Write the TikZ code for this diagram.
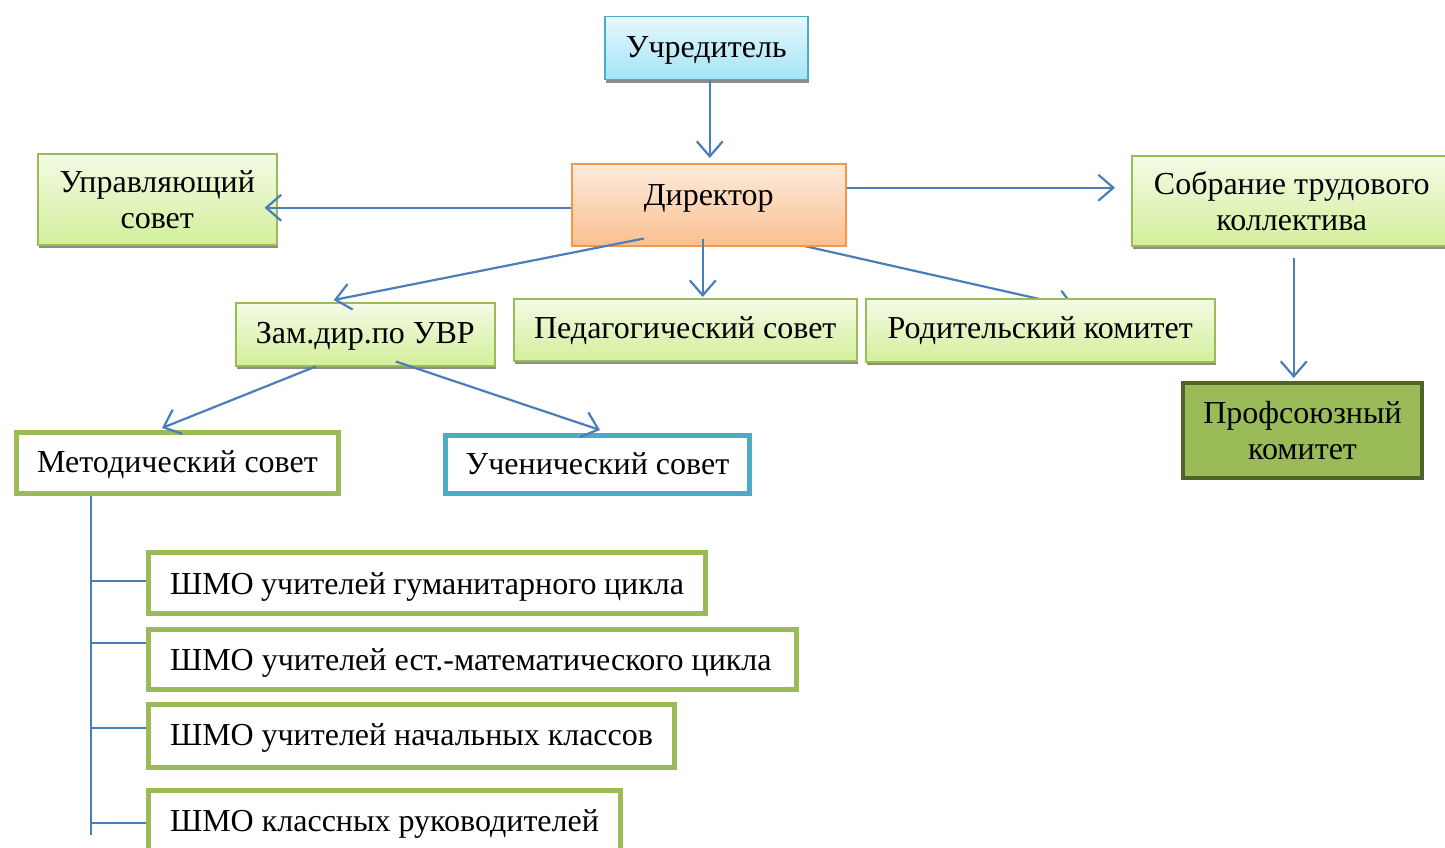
\documentclass[tikz,border=0pt]{standalone}
\usepackage{fontspec}
\setmainfont{Liberation Serif}
\usetikzlibrary{arrows.meta,shadows}
\pgfdeclarelayer{background}
\pgfsetlayers{background,main}
\definecolor{lineblue}{HTML}{4A7EBB}
\definecolor{grnB}{HTML}{9BBB59}
\definecolor{grnT}{HTML}{F4FBE6}
\definecolor{grnBt}{HTML}{D3EF9B}
\definecolor{orB}{HTML}{F79646}
\definecolor{orT}{HTML}{FDEBDD}
\definecolor{orBt}{HTML}{FAC08F}
\definecolor{cyB}{HTML}{4BACC6}
\definecolor{cyT}{HTML}{E6F8FD}
\definecolor{cyBt}{HTML}{A3E4F7}
\definecolor{darkgrn}{HTML}{4F6228}
\newcommand{\bigfont}{\fontsize{32}{36}\selectfont}
\tikzset{
  x=1pt, y=1pt,
  base/.style={inner xsep=0pt, inner ysep=0pt, font=\bigfont, anchor=north west, align=center},
  shad/.style={drop shadow={shadow xshift=1.5pt, shadow yshift=-3.5pt, fill=black!45, opacity=1}},
  gbox/.style={base, shad, draw=grnB, line width=1.5pt, top color=grnT, bottom color=grnBt},
  obox/.style={base, draw=orB, line width=1.5pt, top color=orT, bottom color=orBt},
  cbox/.style={base, shad, draw=cyB, line width=1.5pt, top color=cyT, bottom color=cyBt},
  pbox/.style={base, draw=darkgrn, line width=4pt, fill=grnB},
  wbox/.style={base, draw=grnB, line width=5pt, fill=white},
  ubox/.style={base, draw=cyB, line width=5pt, fill=white},
  sbox/.style={base, draw=grnB, line width=5pt, fill=white, align=flush left, inner xsep=21.5pt},
  conn/.style={draw=lineblue, line width=2.2pt},
  arr/.style={conn, -{Straight Barb[length=15pt,width=26pt]}},
}
\begin{document}
\begin{tikzpicture}
\useasboundingbox (0,0) rectangle (1445,-848);
% boxes
\node[cbox, minimum width=203pt, text height=41pt, text depth=22pt] (uch) at (604,-16) {Учредитель};
\node[obox, minimum width=274pt, text height=42pt, text depth=40pt] (dir) at (571,-163) {Директор};
\node[gbox, minimum width=239pt, minimum height=91pt] (upr) at (37,-153) {Управляющий\\совет};
\node[gbox, minimum width=320pt, minimum height=90pt] (sob) at (1131,-155) {Собрание трудового\\коллектива};
\node[gbox, minimum width=259pt, text height=41pt, text depth=22pt] (zam) at (235,-302) {Зам.дир.по УВР};
\node[gbox, minimum width=343pt, text height=40pt, text depth=22pt] (ped) at (513,-298) {Педагогический совет};
\node[gbox, minimum width=349pt, text height=40pt, text depth=23pt] (rod) at (865,-298) {Родительский комитет};
\node[pbox, minimum width=239pt, minimum height=95pt] (prof) at (1181,-381) {Профсоюзный\\комитет};
\node[wbox, minimum width=322pt, text height=39.5pt, text depth=21.5pt] (met) at (14,-430) {Методический совет};
\node[ubox, minimum width=304pt, text height=38.5pt, text depth=19.5pt] (uche) at (443,-433) {Ученический совет};
\node[sbox, text width=514pt, text height=41.5pt, text depth=19.5pt] (s1) at (146,-550) {ШМО учителей гуманитарного цикла};
\node[sbox, text width=605pt, text height=40.5pt, text depth=19.5pt] (s2) at (146,-627) {ШМО учителей ест.-математического цикла};
\node[sbox, text width=483pt, text height=40.5pt, text depth=22.5pt] (s3) at (146,-702) {ШМО учителей начальных классов};
\node[sbox, text width=429pt, text height=40.5pt, text depth=29.5pt] (s4) at (146,-788) {ШМО классных руководителей};
% connectors
\draw[arr] ([xshift=3.5pt]uch.south) -- ([xshift=1pt,yshift=5pt]dir.north);
\coordinate (d1) at ([yshift=-3pt]dir.west);
\draw[arr, shorten >=-13pt] (d1) -- (d1 -| upr.east);
\coordinate (d2) at ([yshift=17pt]dir.east);
\draw[arr, shorten >=16pt] (d2) -- (d2 -| sob.west);
\draw[arr] ([xshift=-65pt,yshift=8pt]dir.south) -- ([xshift=-31.5pt,yshift=2pt]zam.north);
\draw[arr] ([xshift=-6pt,yshift=8pt]dir.south) -- ([xshift=17.5pt,yshift=1pt]ped.north);
\begin{pgfonlayer}{background}
\draw[arr] ([xshift=89pt,yshift=2pt]dir.south) -- ([xshift=34.5pt,yshift=-9pt]rod.north);
\end{pgfonlayer}
\draw[arr] ([xshift=-49.5pt]zam.south) -- ([xshift=-15.5pt,yshift=2pt]met.north);
\draw[arr] ([xshift=30.5pt,yshift=5pt]zam.south) -- ([xshift=2.5pt,yshift=3pt]uche.north);
\coordinate (p0) at ([xshift=2pt,yshift=-11pt]sob.south);
\draw[arr] (p0) -- ([yshift=3pt]p0 |- prof.north);
% tree
\coordinate (t0) at ([xshift=-86.5pt]met.south);
\coordinate (tend) at ([yshift=-9.5pt]s4.west);
\coordinate (b1) at ([yshift=2pt]s1.west);
\coordinate (b2) at ([yshift=16.5pt]s2.west);
\coordinate (b3) at ([yshift=8pt]s3.west);
\coordinate (b4) at ([yshift=2.5pt]s4.west);
\begin{pgfonlayer}{background}
\draw[conn] (t0) -- (t0 |- tend);
\draw[conn] (b1 -| t0) -- (b1);
\draw[conn] (b2 -| t0) -- (b2);
\draw[conn] (b3 -| t0) -- (b3);
\draw[conn] (b4 -| t0) -- (b4);
\end{pgfonlayer}
\end{tikzpicture}
\end{document}
